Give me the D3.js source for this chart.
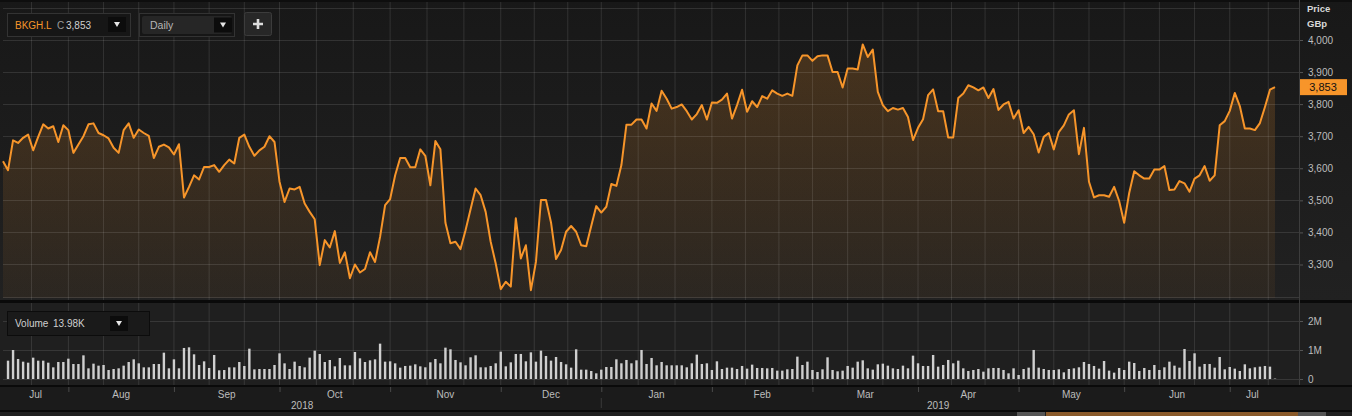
<!DOCTYPE html>
<html><head><meta charset="utf-8">
<script src="https://cdn.jsdelivr.net/npm/d3@7"></script>
<style>
html,body{margin:0;padding:0;background:#1c1c1c;}
svg{display:block;font-family:"Liberation Sans",Arial,sans-serif;}
</style></head>
<body><div id="chart"></div>
<script>
const ticker = "BKGH.L";
const lastClose = "3,853";
const lastVolume = "13.98K";
const prices = [
3622,3594,3687,3679,3695,3705,3656,3698,3737,3724,
3731,3682,3734,3719,3648,3674,3700,3737,3740,3710,
3703,3693,3664,3648,3719,3740,3695,3721,3710,3701,
3632,3667,3674,3665,3643,3675,3509,3542,3578,3565,
3604,3604,3610,3589,3610,3627,3615,3695,3705,3667,
3639,3656,3667,3700,3682,3558,3495,3537,3534,3542,
3490,3464,3441,3298,3376,3353,3404,3305,
3338,3257,3300,3275,3286,3338,3308,3386,3485,3504,
3578,3632,3632,3603,3603,3659,3639,3547,3685,3659,
3430,3366,3371,3348,3407,3472,3537,3516,3464,3371,
3303,3223,3246,3231,3444,3319,3360,3220,3308,3501,
3501,3431,3317,3345,3402,3420,3402,3360,3357,3420,
3482,3462,3480,3551,3545,3610,3736,3736,3752,3752,
3724,3802,3779,3842,
3817,3786,3791,3799,3778,3752,3769,3797,3752,3805,
3804,3814,3833,3755,3797,3845,3776,3809,3791,3825,
3817,3843,3833,3826,3833,3826,3921,3952,3952,3935,
3949,3952,3952,3900,3900,3852,3911,3911,3908,3986,
3947,3970,3838,3797,3778,3788,3783,3788,3760,3688,
3726,3753,3828,3846,3778,3778,3696,3696,3819,3833,
3859,3852,3843,3852,3819,3847,3782,
3799,3807,3755,3781,3710,3729,3706,3649,3698,3710,
3659,3713,3734,3768,3781,3644,3726,3558,3509,3516,
3516,3511,3542,3498,3430,3523,3591,3578,3568,3568,
3596,3596,3607,3532,3534,3560,3553,3527,3568,3578,
3607,3561,3578,3734,3747,3779,3835,3794,3724,3724,
3719,3741,3791,3845,3853
];
const volumes = [
640,632,1000,690,598,563,736,632,632,563,
402,586,586,701,517,517,816,368,529,460,
483,310,345,368,460,586,678,540,402,402,
517,517,908,368,678,368,1070,1092,851,483,
609,380,828,299,310,402,402,586,448,1046,
333,345,345,345,483,885,540,345,598,448,
402,736,977,862,586,655,437,724,471,471,
931,713,586,644,678,1219,598,609,540,391,
449,460,506,437,403,575,690,541,1081,1024,
656,575,472,748,817,403,403,449,541,943,
437,575,863,863,610,920,598,978,794,633,
759,587,506,391,1024,322,322,276,196,322,
414,414,679,541,656,541,644,1001,518,725,
472,587,472,472,472,472,403,541,840,518,
541,311,610,345,391,391,345,449,357,495,
380,380,368,380,288,288,334,345,771,483,
598,311,242,334,748,311,265,288,449,391,
598,644,368,322,506,529,460,368,345,460,
368,805,541,449,449,828,426,483,656,541,
633,368,276,311,345,253,368,380,380,311,
196,368,138,345,391,1001,391,345,311,311,
334,230,345,368,403,587,518,449,357,621,
288,219,380,311,598,552,276,380,311,483,
311,403,598,460,391,1035,621,886,426,518,
518,391,759,334,414,357,276,506,368,403,
426,449,426,14
];
const months = ["Jul","Aug","Sep","Oct","Nov","Dec","Jan","Feb","Mar","Apr","May","Jun","Jul"];
const monthStart = [0,13,34,55,77,99,119,141,161,182,202,223,244];
const years = ["2018","2019"];
const yearStart = [0,119];
const priceTicks = [3300,3400,3500,3600,3700,3800,3900,4000];
const volTicks = [0,1000,2000];
const volTickLabels = ["0","1M","2M"];

const W = 1352, H = 416;
const svg = d3.select("#chart").append("svg").attr("width", W).attr("height", H);
const defs = svg.append("defs");

const n = prices.length;
const x = d3.scaleLinear().domain([0, n - 1]).range([3, 1275]);
const yP = d3.scaleLinear().domain([3195.5, 4124.7]).range([298, 0]);
const yV = d3.scaleLinear().domain([0, 2000]).range([379, 321]);
const axisX = 1299;

// backgrounds
const bg = defs.append("linearGradient").attr("id","bgp").attr("x1",0).attr("y1",0).attr("x2",0).attr("y2",1);
bg.append("stop").attr("offset","0%").attr("stop-color","#181818");
bg.append("stop").attr("offset","100%").attr("stop-color","#212121");
svg.append("rect").attr("x",0).attr("y",0).attr("width",W).attr("height",H).attr("fill","#1c1c1c");
svg.append("rect").attr("x",0).attr("y",0).attr("width",W).attr("height",300).attr("fill","url(#bgp)");
svg.append("rect").attr("x",0).attr("y",0).attr("width",W).attr("height",2).attr("fill","#0e0e0e");
svg.append("rect").attr("x",0).attr("y",300).attr("width",W).attr("height",3).attr("fill","#0a0a0a");
svg.append("rect").attr("x",0).attr("y",303).attr("width",W).attr("height",82).attr("fill","#1f1f1f");
svg.append("rect").attr("x",0).attr("y",385).attr("width",W).attr("height",2).attr("fill","#0a0a0a");
svg.append("rect").attr("x",0).attr("y",387).attr("width",W).attr("height",23).attr("fill","#1b1b1b");
svg.append("rect").attr("x",0).attr("y",410).attr("width",W).attr("height",2).attr("fill","#0a0a0a");
svg.append("rect").attr("x",0).attr("y",412).attr("width",W).attr("height",4).attr("fill","#202020");

// area fill
const ag = defs.append("linearGradient").attr("id","areaG").attr("gradientUnits","userSpaceOnUse")
  .attr("x1",0).attr("y1",40).attr("x2",0).attr("y2",298);
ag.append("stop").attr("offset","0%").attr("stop-color","#f7952a").attr("stop-opacity",0.21);
ag.append("stop").attr("offset","100%").attr("stop-color","#f7952a").attr("stop-opacity",0.05);
const area = d3.area().x((d,i)=>x(i)).y0(298).y1(d=>yP(d));
svg.append("path").datum(prices).attr("d", area).attr("fill","url(#areaG)");

// grid
const gridCol = "rgba(255,255,255,0.11)";
const gx = [];
const starts = [monthStart[1]-22].concat(monthStart.slice(1)).concat([monthStart[monthStart.length-1]+23]);
for (let k = 0; k < starts.length - 1; k++) {
  const s = starts[k], e = starts[k+1];
  [s, s + (e - s)/3, s + 2*(e - s)/3].forEach(v => { if (v > 2 && v < n + 4) gx.push(v); });
}
const grid = svg.append("g");
gx.forEach(v => {
  grid.append("line").attr("x1",x(v)).attr("x2",x(v)).attr("y1",2).attr("y2",300).attr("stroke",gridCol);
  grid.append("line").attr("x1",x(v)).attr("x2",x(v)).attr("y1",303).attr("y2",385).attr("stroke",gridCol);
});
yP.ticks(10).forEach(t => {
  grid.append("line").attr("x1",3).attr("x2",axisX).attr("y1",Math.round(yP(t))+0.5).attr("y2",Math.round(yP(t))+0.5).attr("stroke",gridCol);
});
volTicks.forEach(t => {
  grid.append("line").attr("x1",3).attr("x2",axisX).attr("y1",Math.round(yV(t))+0.5).attr("y2",Math.round(yV(t))+0.5).attr("stroke",gridCol);
});

// price line
const line = d3.line().x((d,i)=>x(i)).y(d=>yP(d));
svg.append("path").datum(prices).attr("d", line).attr("fill","none")
  .attr("stroke","#f7952a").attr("stroke-width",2).attr("stroke-linejoin","round");

// volume bars
defs.append("clipPath").attr("id","vclip").append("rect").attr("x",5).attr("y",303).attr("width",1290).attr("height",82);
svg.append("g").attr("clip-path","url(#vclip)").selectAll("rect").data(volumes).join("rect")
  .attr("x",(d,i)=>x(i)-1.2).attr("width",2.4)
  .attr("y",d=>yV(d)).attr("height",d=>yV(0)-yV(d)).attr("fill","#cfcfcf");

// right axes
const tcol = "#bdbdbd";
const pa = svg.append("g").attr("transform",`translate(${axisX},0)`)
  .call(d3.axisRight(yP).tickValues(priceTicks).tickFormat(d3.format(",")).tickSize(4).tickPadding(5));
const va = svg.append("g").attr("transform",`translate(${axisX},0)`)
  .call(d3.axisRight(yV).tickValues(volTicks).tickFormat((d,i)=>volTickLabels[i]).tickSize(4).tickPadding(5));
[pa, va].forEach(a => {
  a.select(".domain").remove();
  a.selectAll("line").attr("stroke","#555");
  a.selectAll("text").attr("fill",tcol).attr("font-size","10px").attr("font-family","Liberation Sans, Arial, sans-serif");
});
svg.append("line").attr("x1",axisX+0.5).attr("x2",axisX+0.5).attr("y1",0).attr("y2",385).attr("stroke","#3c3c3c");
svg.append("text").attr("x",1307).attr("y",12).text("Price").attr("fill","#d8d8d8").attr("font-size","9.5px").attr("font-weight","bold");
svg.append("text").attr("x",1307).attr("y",27).text("GBp").attr("fill","#d8d8d8").attr("font-size","9.5px").attr("font-weight","bold");

// last price tag
const ly = yP(prices[n-1]);
svg.append("rect").attr("x",1300).attr("y",ly-8).attr("width",47).attr("height",16).attr("fill","#f7952a");
svg.append("text").attr("x",1323).attr("y",ly+4).attr("text-anchor","middle").text(lastClose)
  .attr("fill","#111").attr("font-size","11px");

// x axis
const xa = svg.append("g");
monthStart.forEach((s,k) => {
  if (k > 0) xa.append("line").attr("x1",x(s)+0.5).attr("x2",x(s)+0.5).attr("y1",387).attr("y2",392).attr("stroke","#4a4a4a");
  const e = k < monthStart.length - 1 ? monthStart[k+1] : n - 1;
  xa.append("text").attr("x",(x(s)+x(e))/2).attr("y",398).attr("text-anchor","middle").text(months[k])
    .attr("fill",tcol).attr("font-size","10px");
});
yearStart.forEach((s,k) => {
  const e = k < yearStart.length - 1 ? yearStart[k+1] : n - 1;
  xa.append("text").attr("x",(x(s)+x(e))/2).attr("y",409).attr("text-anchor","middle").text(years[k])
    .attr("fill",tcol).attr("font-size","10px");
  if (k > 0) xa.append("line").attr("x1",x(s)).attr("x2",x(s)).attr("y1",398).attr("y2",408).attr("stroke","#3a3a3a");
});

// navigator strip
svg.append("rect").attr("x",1017).attr("y",412).attr("width",28).attr("height",4).attr("fill","#555");
svg.append("rect").attr("x",1046).attr("y",412).attr("width",252).attr("height",4).attr("fill","#8a5a2a");
svg.append("rect").attr("x",1298).attr("y",412).attr("width",28).attr("height",4).attr("fill","#555");

// controls
function ddButton(g, bx, by) {
  g.append("rect").attr("x",bx).attr("y",by).attr("width",18).attr("height",15).attr("fill","#0c0c0c");
  g.append("path").attr("d",`M${bx+6},${by+5}L${bx+12},${by+5}L${bx+9},${by+10}Z`).attr("fill","#e6e6e6");
}
const c = svg.append("g");
c.append("rect").attr("x",7.5).attr("y",13.5).attr("width",123).attr("height",23).attr("fill","#161616").attr("stroke","#333");
c.append("text").attr("x",15).attr("y",29).text(ticker).attr("fill","#f7952a").attr("font-size","10px");
c.append("text").attr("x",57).attr("y",29).text("C").attr("fill","#9a9a9a").attr("font-size","10px");
c.append("text").attr("x",66).attr("y",29).text(lastClose).attr("fill","#d0d0d0").attr("font-size","10px");
ddButton(c, 108, 17);
c.append("rect").attr("x",139.5).attr("y",13.5).attr("width",95).attr("height",23).attr("fill","#161616").attr("stroke","#333");
c.append("rect").attr("x",142).attr("y",16).attr("width",90).attr("height",18).attr("fill","#262626").attr("rx",2);
c.append("text").attr("x",150).attr("y",29).text("Daily").attr("fill","#b5b5b5").attr("font-size","10.5px");
ddButton(c, 214, 17.5);
c.append("rect").attr("x",244.5).attr("y",12.5).attr("width",27).attr("height",23).attr("rx",2).attr("fill","#272727").attr("stroke","#3c3c3c");
c.append("path").attr("d","M253,24H263M258,19V29").attr("stroke","#dcdcdc").attr("stroke-width",2.6);

c.append("rect").attr("x",7.5).attr("y",311.5).attr("width",142).attr("height",24).attr("fill","#1a1a1a").attr("stroke","#0c0c0c");
c.append("text").attr("x",15).attr("y",327).text("Volume").attr("fill","#cfcfcf").attr("font-size","10px");
c.append("text").attr("x",53).attr("y",327).text(lastVolume).attr("fill","#cfcfcf").attr("font-size","10px");
ddButton(c, 110, 316);
</script></body></html>
